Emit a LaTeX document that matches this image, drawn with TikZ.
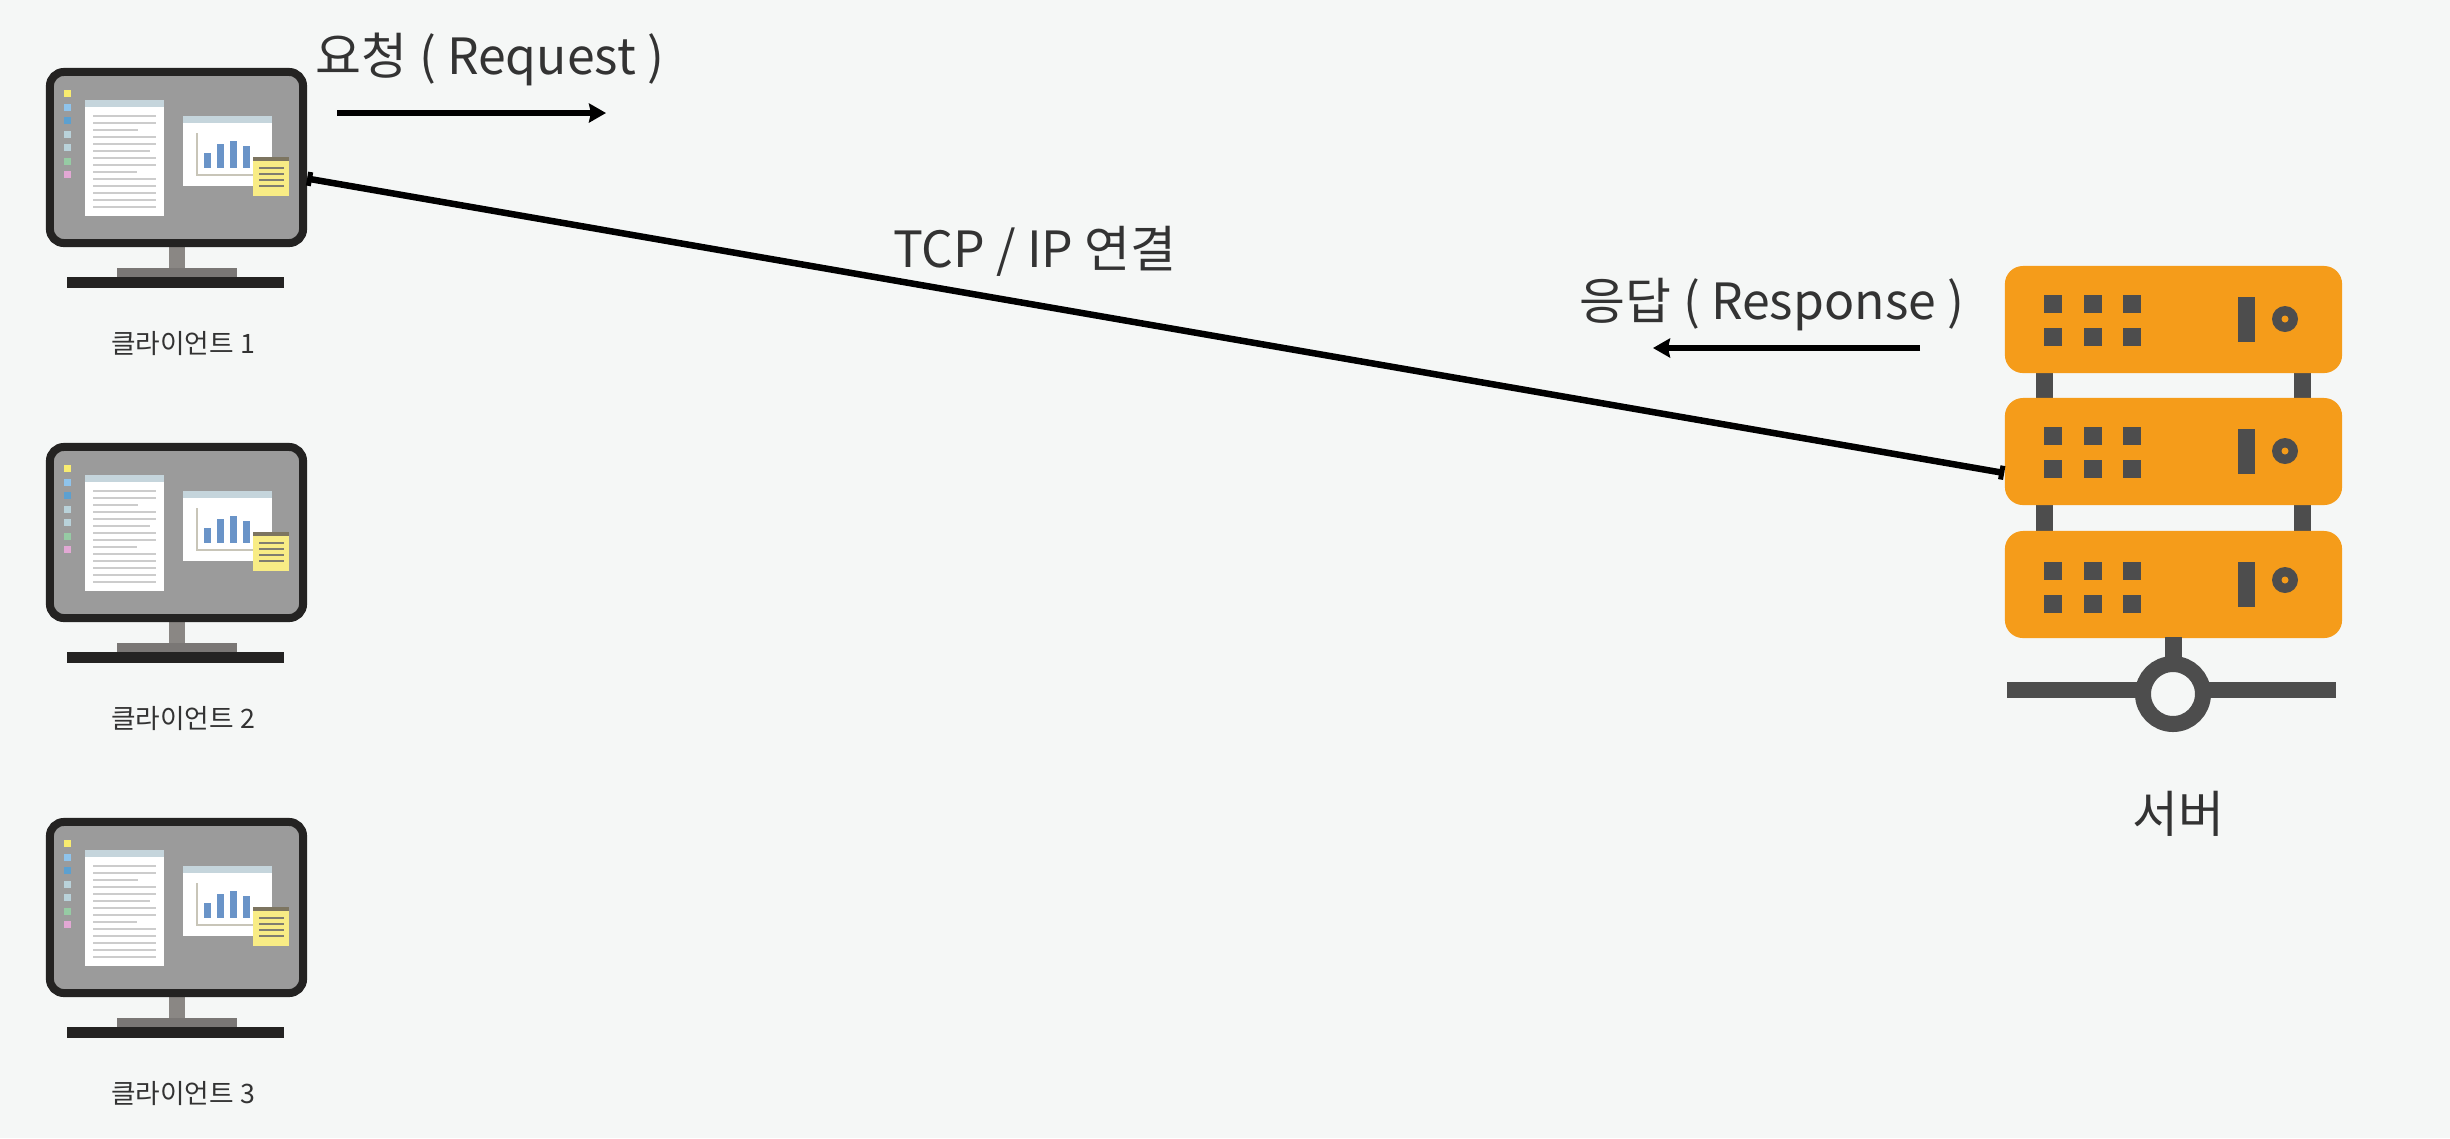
\documentclass[tikz,border=0pt]{standalone}
\usepackage{fontspec}
\setmainfont{Noto Sans CJK KR}
\usetikzlibrary{arrows.meta,positioning}
\definecolor{pagebg}{HTML}{F5F7F6}
\definecolor{textdark}{HTML}{333333}
\definecolor{framedark}{HTML}{242322}
\definecolor{screengray}{HTML}{9B9B9B}
\definecolor{standgray}{HTML}{8A8784}
\definecolor{basegray}{HTML}{7A7775}
\definecolor{headblue}{HTML}{C5D5DC}
\definecolor{rowgray}{HTML}{CCCCCC}
\definecolor{axisgray}{HTML}{C8C5B8}
\definecolor{barblue}{HTML}{6A94C8}
\definecolor{noteyellow}{HTML}{F8EC85}
\definecolor{notehead}{HTML}{7D7560}
\definecolor{noterow}{HTML}{807D70}
\definecolor{iconyellow}{HTML}{F8EC70}
\definecolor{iconsky}{HTML}{8FC4EC}
\definecolor{iconblue}{HTML}{5CA0D0}
\definecolor{iconpale}{HTML}{B9D2DA}
\definecolor{icongreen}{HTML}{96CBA4}
\definecolor{iconpink}{HTML}{E2A8D4}
\definecolor{serverorange}{HTML}{F59C1A}
\definecolor{servergray}{HTML}{4D4D4D}
\tikzset{
  monitor/.style={rectangle,rounded corners=0.14cm,minimum width=2.53cm,minimum height=1.71cm,
    draw=framedark,fill=screengray,line width=0.08cm},
  rackunit/.style={rectangle,rounded corners=0.18cm,minimum width=3.37cm,minimum height=1.07cm,
    fill=serverorange,inner sep=0pt},
  biglabel/.style={font=\fontsize{14.2}{17}\selectfont,text=textdark,inner sep=0pt},
  clientlabel/.style={font=\fontsize{7.6}{9}\selectfont,text=textdark,inner sep=0pt},
  myarrow/.style={-{Stealth[length=0.17cm,width=0.19cm,inset=0.02cm]},line width=0.06cm,black},
  linkline/.style={{Bar[width=0.14cm,line width=0.05cm]}-{Bar[width=0.14cm,line width=0.05cm]},line width=0.065cm,black},
}
\begin{document}
\begin{tikzpicture}[x=0.01cm,y=-0.01cm]
  \fill[pagebg] (0,0) rectangle (2450,1138);
  \useasboundingbox (0,0) rectangle (2450,1138);
  % clients
  \foreach \i in {1,2,3} {
    \begin{scope}[shift={(0,{(\i-1)*375})}]
      \fill[standgray] (169,247) rectangle (185,268);
      \fill[basegray] (117,268) rectangle (237,277);
      \fill[framedark] (67,277) rectangle (284,288);
      \node[monitor] (client\i) at (176.5,157.5) {};
      \foreach \k/\c in {0/iconyellow,1/iconsky,2/iconblue,3/iconpale,4/iconpale,5/icongreen,6/iconpink}
        \fill[\c] (64,{90+\k*13.5}) rectangle +(7,7);
      % text window
      \fill[white] (85,100) rectangle (164,216);
      \fill[headblue] (85,100) rectangle (164,107);
      \foreach \ly/\lx in {116/156,123/156,130/138,137/156,144/156,151/150,158/156,165/156,172/137,179/156,186/156,193/156,200/156,207/156}
        \fill[rowgray] (93,\ly-1.2) rectangle (\lx,\ly+1.2);
      % chart window
      \fill[white] (183,116) rectangle (272,186);
      \fill[headblue] (183,116) rectangle (272,123);
      \draw[axisgray,line width=0.015cm] (197,133) -- (197,175) -- (253,175);
      \foreach \bx/\by in {204/153,217/144,230/141,243/146}
        \fill[barblue] (\bx,\by) rectangle (\bx+6.5,168);
      % note
      \fill[noteyellow] (253,157) rectangle (289,196);
      \fill[notehead] (253,157) rectangle (289,161);
      \foreach \ny in {168,174,180,186}
        \fill[noterow] (259,\ny-1) rectangle (284,\ny+1);
      \node[clientlabel] (name\i) at (183,343) {클라이언트 \i};
    \end{scope}
  }
  % server
  \foreach \px in {2036,2294} {
    \fill[servergray] (\px,372) rectangle +(17,26);
    \fill[servergray] (\px,505) rectangle +(17,26);
  }
  \foreach \i/\ty/\sy/\cy in {1/266/29/53,2/398/29/53,3/531/31/49} {
    \node[rackunit] (server\i) at (2173.5,\ty+53.5) {};
    \foreach \sx in {2044,2084,2123} {
      \fill[servergray] (\sx,\ty+\sy) rectangle +(18,18);
      \fill[servergray] (\sx,\ty+\sy+33) rectangle +(18,18);
    }
    \fill[servergray] (2238,\ty+31) rectangle +(17,45);
    \fill[servergray] (2285,\ty+\cy) circle (13);
    \fill[serverorange] (2285,\ty+\cy) circle (3.5);
  }
  \fill[servergray] (2165,637) rectangle (2182,660);
  \fill[servergray] (2007,682) rectangle (2336,698);
  \draw[servergray,fill=pagebg,line width=0.16cm] (2173,694) circle (30);
  \node[biglabel] (servername) at (2178,814) {서버};
  % labels
  \node[biglabel] (reqlabel) at (490,59) {요청 ( Request )};
  \node[biglabel] (linklabel) at (1035,251) {TCP / IP 연결};
  \node[biglabel] (reslabel) at (1772,305) {응답 ( Response )};
  % arrows
  \coordinate (reqa) at (337,113);
  \coordinate (reqb) at (606,113);
  \coordinate (resa) at (1920,348);
  \coordinate (resb) at (1653,348);
  \draw[myarrow] (reqa) -- (reqb);
  \draw[myarrow] (resa) -- (resb);
  \draw[linkline] ([yshift=-0.21cm]client1.east) -- ([yshift=-0.215cm]server2.west);
\end{tikzpicture}
\end{document}
